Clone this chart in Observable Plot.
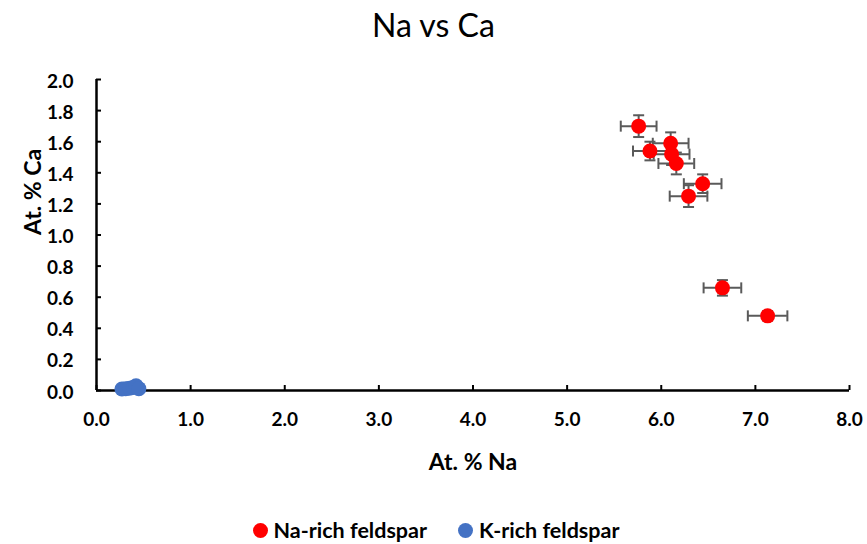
<!DOCTYPE html>
<html>
<head>
<meta charset="utf-8">
<script src="https://cdn.jsdelivr.net/npm/d3@7"></script>
<script src="https://cdn.jsdelivr.net/npm/@observablehq/plot@0.6"></script>
<style>
  html, body { margin: 0; padding: 0; background: #fff; overflow: hidden; }
  body { width: 867px; font-family: Lato, "Open Sans", sans-serif; }
  #title { height: 50px; line-height: 50px; text-align: center; font-size: 32px; color: #000; }
  #chart { height: 440px; }
  #legend { height: 80px; display: flex; justify-content: center; align-items: center; gap: 31px;
            font-weight: bold; font-size: 21.5px; color: #000; padding-left: 5px; box-sizing: border-box; }
  #legend span.item { display: flex; align-items: center; gap: 6px; }
  #legend span.sw { width: 15px; height: 15px; border-radius: 50%; display: inline-block; }
</style>
</head>
<body>
<div id="title">Na vs Ca</div>
<div id="chart"></div>
<div id="legend"></div>
<script>
// Na-rich feldspar (at. %)
const naX    = [5.76, 6.10, 5.88, 6.11, 6.16, 6.44, 6.29, 6.65, 7.13];
const naY    = [1.70, 1.59, 1.54, 1.52, 1.46, 1.33, 1.25, 0.66, 0.48];
const naXErr = [0.19, 0.19, 0.18, 0.19, 0.19, 0.20, 0.20, 0.20, 0.21];
const naYErr = [0.07, 0.07, 0.06, 0.07, 0.07, 0.06, 0.07, 0.05, 0.03];

// K-rich feldspar (at. %)
const kX = [0.27, 0.31, 0.35, 0.39, 0.42, 0.45];
const kY = [0.010, 0.012, 0.015, 0.020, 0.030, 0.012];

const seriesNames = ["Na-rich feldspar", "K-rich feldspar"];
const seriesColors = ["#FF0000", "#4472C4"];
const xTicks = [0, 1, 2, 3, 4, 5, 6, 7, 8];
const yTicks = [0, 0.2, 0.4, 0.6, 0.8, 1.0, 1.2, 1.4, 1.6, 1.8, 2.0];

const na = naX.map((x, i) => ({x, y: naY[i], xe: naXErr[i], ye: naYErr[i]}));
const k = kX.map((x, i) => ({x, y: kY[i]}));

// Flat caps for the error bars, drawn as dot symbols
const hCap = {draw(ctx, size) { const r = Math.sqrt(size / Math.PI); ctx.moveTo(-r, 0); ctx.lineTo(r, 0); }};
const vCap = {draw(ctx, size) { const r = Math.sqrt(size / Math.PI); ctx.moveTo(0, -r); ctx.lineTo(0, r); }};

const errColor = "#5a5a5a";
const fmt = d3.format(".1f");
const font = "Lato, 'Open Sans', sans-serif";

const plot = Plot.plot({
  width: 867,
  height: 440,
  marginTop: 29,
  marginBottom: 100,
  marginLeft: 96,
  marginRight: 18,
  style: {fontFamily: font, fontSize: "19px", fontWeight: "bold", color: "#000", background: "#fff"},
  x: {domain: [0, 8]},
  y: {domain: [0, 2]},
  marks: [
    // tick labels
    Plot.axisX(xTicks, {tickSize: 0, tickPadding: 22, tickFormat: fmt, label: null, fontSize: 19, fontWeight: "bold"}),
    Plot.axisY(yTicks, {tickSize: 0, tickPadding: 23, tickFormat: fmt, label: null, fontSize: 19, fontWeight: "bold", dy: 2}),
    // inward tick marks
    Plot.axisX(xTicks, {tickSize: -5, text: null, label: null, strokeWidth: 2}),
    Plot.axisY(yTicks, {tickSize: -5, text: null, label: null, strokeWidth: 2}),
    // axis titles
    Plot.text(["At. % Na"], {frameAnchor: "bottom", dy: 79, fontSize: 23, fontWeight: "bold"}),
    Plot.text(["At. % Ca"], {frameAnchor: "left", dx: -63, rotate: -90, fontSize: 23, fontWeight: "bold"}),
    // axis lines
    Plot.ruleY([0], {stroke: "#000", strokeWidth: 2.5}),
    Plot.ruleX([0], {stroke: "#000", strokeWidth: 2.5}),
    // error bars
    Plot.ruleY(na, {y: "y", x1: d => d.x - d.xe, x2: d => d.x + d.xe, stroke: errColor, strokeWidth: 2}),
    Plot.ruleX(na, {x: "x", y1: d => d.y - d.ye, y2: d => d.y + d.ye, stroke: errColor, strokeWidth: 2}),
    Plot.dot(na, {x: d => d.x - d.xe, y: "y", symbol: vCap, r: 5.5, stroke: errColor, strokeWidth: 2, fill: "none"}),
    Plot.dot(na, {x: d => d.x + d.xe, y: "y", symbol: vCap, r: 5.5, stroke: errColor, strokeWidth: 2, fill: "none"}),
    Plot.dot(na, {x: "x", y: d => d.y - d.ye, symbol: hCap, r: 5.5, stroke: errColor, strokeWidth: 2, fill: "none"}),
    Plot.dot(na, {x: "x", y: d => d.y + d.ye, symbol: hCap, r: 5.5, stroke: errColor, strokeWidth: 2, fill: "none"}),
    // markers
    Plot.dot(k, {x: "x", y: "y", r: 7.5, fill: seriesColors[1], stroke: "none"}),
    Plot.dot(na, {x: "x", y: "y", r: 7.5, fill: seriesColors[0], stroke: "none"})
  ]
});
document.getElementById("chart").appendChild(plot);

const legend = document.getElementById("legend");
seriesNames.forEach((name, i) => {
  const item = document.createElement("span");
  item.className = "item";
  const sw = document.createElement("span");
  sw.className = "sw";
  sw.style.background = seriesColors[i];
  item.appendChild(sw);
  item.appendChild(document.createTextNode(name));
  legend.appendChild(item);
});
</script>
</body>
</html>
